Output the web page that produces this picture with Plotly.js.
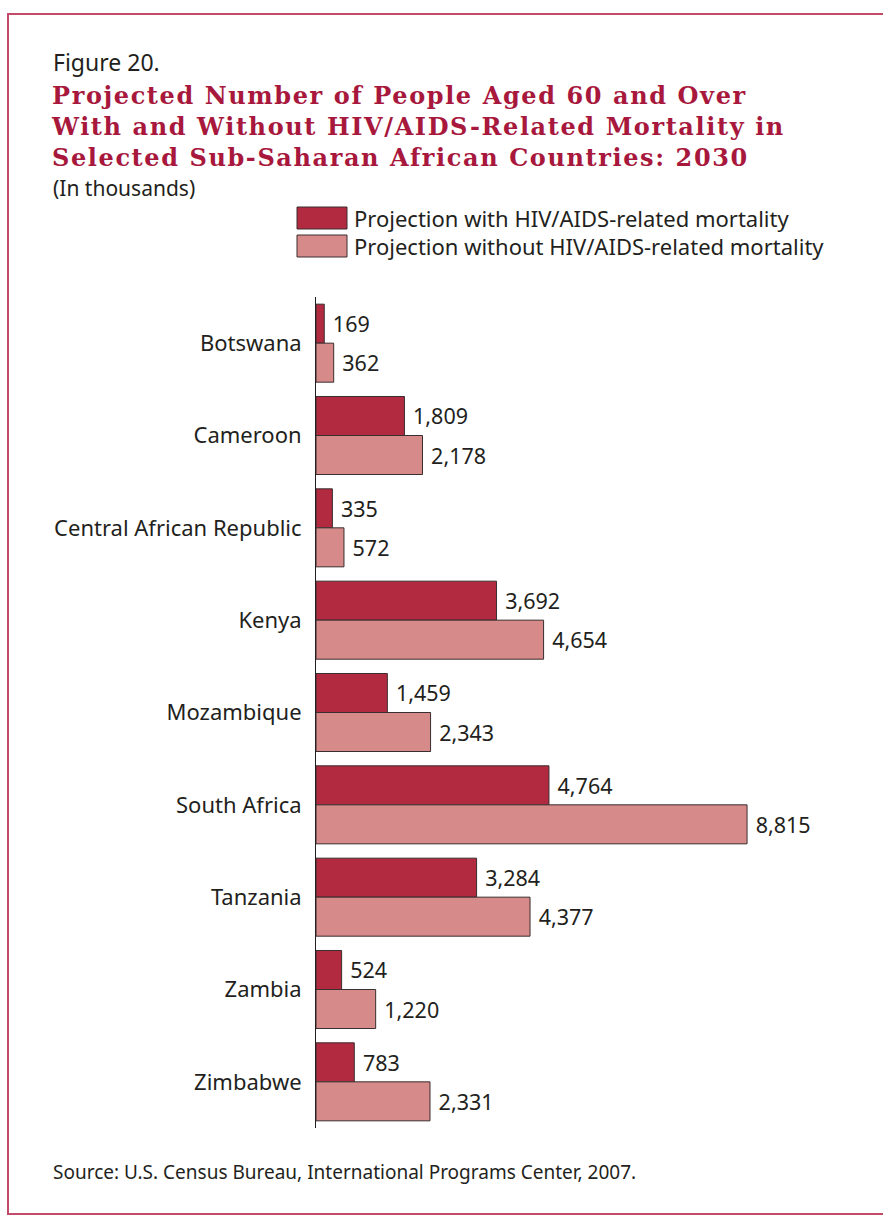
<!DOCTYPE html>
<html>
<head>
<meta charset="utf-8">
<script src="https://cdn.plot.ly/plotly-3.0.1.min.js"></script>
<style>
  html, body { margin: 0; padding: 0; background: #fff; }
  #wrap { position: relative; width: 883px; height: 1219px; overflow: hidden; }
  #frame { position: absolute; left: 7px; top: 13px; width: 890px; height: 1202px; border: 2px solid #c44a6a; box-sizing: border-box; pointer-events: none; }
  #chart { position: absolute; left: 0; top: 0; width: 883px; height: 1219px; }
  .gtitle { letter-spacing: 1.6px; }
</style>
</head>
<body>
<div id="wrap">
  <div id="chart"></div>
  <div id="frame"></div>
</div>
<script>
// ---- Data ----
const countries = ["Botswana", "Cameroon", "Central African Republic", "Kenya", "Mozambique",
                   "South Africa", "Tanzania", "Zambia", "Zimbabwe"];
const withHIV    = [169, 1809, 335, 3692, 1459, 4764, 3284, 524, 783];
const withoutHIV = [362, 2178, 572, 4654, 2343, 8815, 4377, 1220, 2331];
const seriesNames = ["Projection with HIV/AIDS-related mortality",
                     "Projection without HIV/AIDS-related mortality"];
const figureLabel = "Figure 20.";
const titleText = "Projected Number of People Aged 60 and Over<br>With and Without HIV/AIDS-Related Mortality in<br>Selected Sub-Saharan African Countries: 2030";
const unitText = "(In thousands)";
const sourceText = "Source: U.S. Census Bureau, International Programs Center, 2007.";

// ---- Style ----
const darkColor = "#b22a40";
const lightColor = "#d68a89";
const outline = "#3a2e2e";
const textColor = "#231f20";
const bodyFont = "Noto Sans, Open Sans, sans-serif";

const W = 883, H = 1219;
const mL = 316, mR = 78, mT = 297, mB = 91;
const plotW = W - mL - mR, plotH = H - mT - mB;
const px2x = px => (px - mL) / plotW;
const py2y = py => (H - mB - py) / plotH;

const traces = [
  {
    type: "bar", orientation: "h", name: seriesNames[0],
    y: countries, x: withHIV,
    marker: { color: darkColor, line: { color: outline, width: 1 } },
    texttemplate: "\u00a0%{x:,}", textposition: "outside", cliponaxis: false,
    textfont: { family: bodyFont, size: 21.5, color: textColor },
    hoverinfo: "x+name"
  },
  {
    type: "bar", orientation: "h", name: seriesNames[1],
    y: countries, x: withoutHIV,
    marker: { color: lightColor, line: { color: outline, width: 1 } },
    texttemplate: "\u00a0%{x:,}", textposition: "outside", cliponaxis: false,
    textfont: { family: bodyFont, size: 21.5, color: textColor },
    hoverinfo: "x+name"
  }
];

const legendBoxes = [
  { y0: 207, y1: 229, color: darkColor },
  { y0: 235, y1: 257, color: lightColor }
];

const shapes = legendBoxes.map(b => ({
  type: "rect", xref: "paper", yref: "paper",
  x0: px2x(297), x1: px2x(347), y0: py2y(b.y1), y1: py2y(b.y0),
  fillcolor: b.color, line: { color: outline, width: 1 }
}));

const annotations = [
  { text: figureLabel, x: px2x(51), y: py2y(62), xanchor: "left", yanchor: "middle",
    font: { family: bodyFont, size: 23, color: textColor } },
  { text: unitText, x: px2x(51), y: py2y(188), xanchor: "left", yanchor: "middle",
    font: { family: bodyFont, size: 21, color: textColor } },
  { text: seriesNames[0], x: px2x(352), y: py2y(218), xanchor: "left", yanchor: "middle",
    font: { family: bodyFont, size: 22, color: textColor } },
  { text: seriesNames[1], x: px2x(352), y: py2y(246), xanchor: "left", yanchor: "middle",
    font: { family: bodyFont, size: 22, color: textColor } },
  { text: sourceText, x: px2x(51), y: py2y(1172), xanchor: "left", yanchor: "middle",
    font: { family: bodyFont, size: 19, color: textColor } }
].map(a => Object.assign({ xref: "paper", yref: "paper", showarrow: false }, a));

const layout = {
  width: W, height: H,
  margin: { l: mL, r: mR, t: mT, b: mB, pad: 0 },
  paper_bgcolor: "#ffffff", plot_bgcolor: "#ffffff",
  showlegend: false,
  barmode: "group", bargap: 0.155, bargroupgap: 0,
  title: {
    text: "<b>" + titleText + "</b>",
    xref: "container", yref: "container",
    x: 52 / W, xanchor: "left",
    y: 1 - 104 / H, yanchor: "top",
    font: { family: "DejaVu Serif, serif", size: 24, color: "#a8183d" }
  },
  xaxis: {
    range: [0, 10000], visible: false, fixedrange: true
  },
  yaxis: {
    type: "category", autorange: "reversed",
    showline: true, linecolor: "#231f20", linewidth: 1,
    showgrid: false, zeroline: false,
    ticks: "", ticklabelstandoff: 9,
    tickfont: { family: bodyFont, size: 22, color: textColor },
    fixedrange: true
  },
  shapes: shapes,
  annotations: annotations
};

Plotly.newPlot("chart", traces, layout, { displayModeBar: false, staticPlot: true });
</script>
</body>
</html>
